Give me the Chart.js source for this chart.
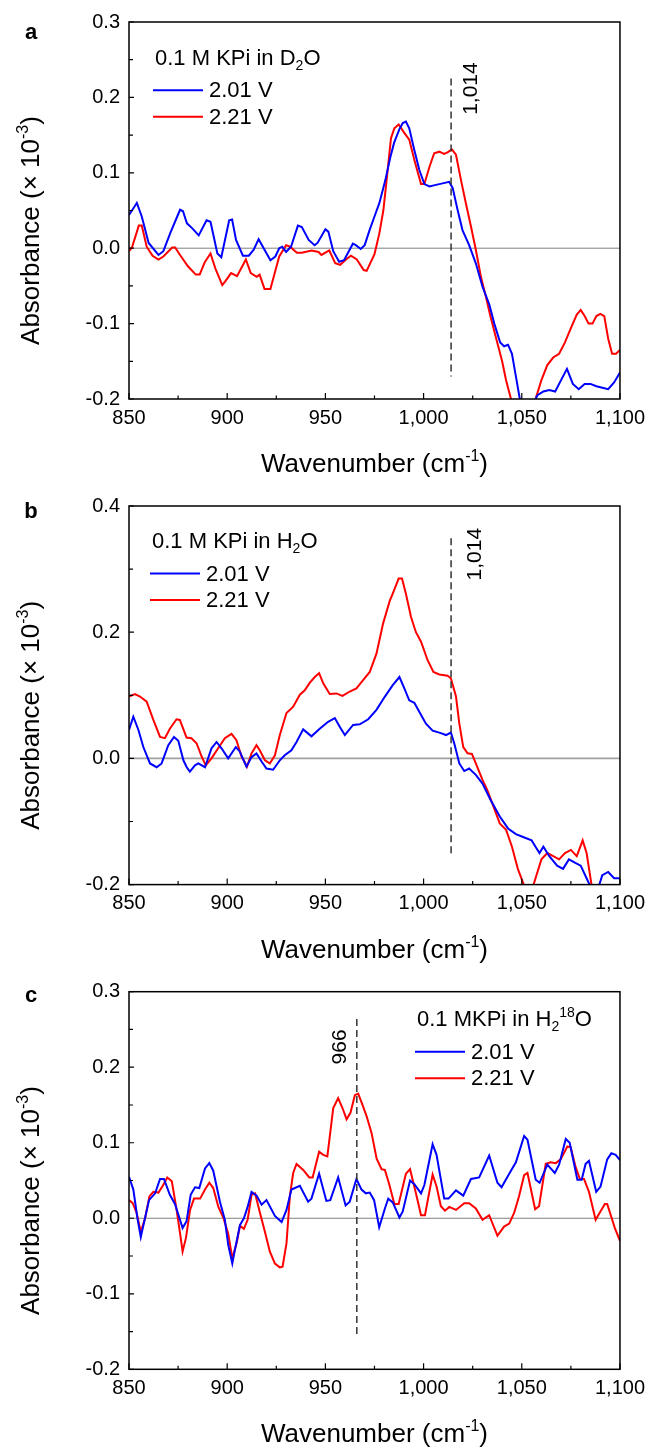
<!DOCTYPE html>
<html>
<head>
<meta charset="utf-8">
<script src="https://cdn.jsdelivr.net/npm/chart.js@4.4.1/dist/chart.umd.min.js"></script>
<style>
  body { margin: 0; background: #fff; }
  #wrap { position: relative; width: 652px; height: 1449px; }
  canvas { position: absolute; left: 0; }
</style>
</head>
<body>
<div id="wrap">
  <canvas id="panelA" width="652" height="490" style="top:0px"></canvas>
  <canvas id="panelB" width="652" height="490" style="top:480px"></canvas>
  <canvas id="panelC" width="652" height="489" style="top:960px"></canvas>
</div>
<script>
const FONT = '"Liberation Sans", Arial, Helvetica, sans-serif';

// axis ticks
const wnTicks = [850, 900, 950, 1000, 1050, 1100];
const absTicksA = [-0.2, -0.1, 0, 0.1, 0.2, 0.3];
const absTicksB = [-0.2, 0, 0.2, 0.4];
const absTicksC = [-0.2, -0.1, 0, 0.1, 0.2, 0.3];

const voltages = ['2.01 V', '2.21 V'];
const lineColors = ['#0000ff', '#ff0000'];

// [wavenumber, absorbance x 1e-3]
const d2oLow = [[850,0.044],[854,0.060],[856.5,0.042],[860,0.007],[865,-0.009],[867.5,-0.004],[871,0.020],[876,0.051],[877.5,0.049],[879.5,0.033],
  [882,0.027],[885.5,0.017],[889.5,0.037],[891.5,0.035],[895,-0.007],[897,-0.012],[901,0.037],[902.5,0.038],[904.5,0.011],[908,-0.010],
  [911,-0.010],[913.5,-0.002],[916,0.012],[919,-0.002],[922,-0.016],[924.5,-0.011],[926.5,0.000],[928,0.002],[930,-0.005],[932.5,0.002],
  [936,0.030],[938,0.028],[941.5,0.011],[944.5,0.004],[946,0.007],[950,0.025],[951.5,0.022],[954,-0.004],[957,-0.018],[959.5,-0.016],
  [964,0.006],[965.5,0.004],[968,-0.001],[970,0.004],[972.5,0.024],[975,0.042],[977.5,0.060],[980.5,0.090],[983,0.120],[985,0.140],
  [987.7,0.158],[989.4,0.166],[991,0.168],[992.7,0.159],[995.3,0.130],[997.8,0.104],[1000.4,0.085],[1003,0.082],[1006.3,0.084],[1009.7,0.086],
  [1013,0.088],[1014.8,0.080],[1017.3,0.051],[1019.8,0.024],[1023.2,0.004],[1026.6,-0.020],[1030,-0.051],[1033.5,-0.075],[1036,-0.100],[1039,-0.125],
  [1041,-0.130],[1043,-0.128],[1045,-0.140],[1047,-0.170],[1049,-0.200],[1051,-0.215],[1054,-0.220],[1056,-0.205],[1058,-0.195],[1061,-0.190],
  [1064,-0.188],[1067,-0.190],[1070,-0.175],[1073,-0.160],[1076,-0.180],[1079,-0.187],[1082,-0.180],[1085,-0.180],[1088,-0.183],[1091,-0.185],
  [1094,-0.187],[1097,-0.178],[1100,-0.165]];
const d2oHigh = [[850,-0.004],[851.5,0.001],[855,0.030],[856.5,0.030],[859,0.002],[862,-0.010],[865,-0.015],[867.5,-0.011],[872,0.001],[873.5,0.001],
  [876,-0.009],[880,-0.024],[884,-0.035],[886,-0.035],[888.5,-0.019],[891.5,-0.007],[894,-0.027],[897.5,-0.049],[899,-0.044],[902,-0.033],
  [905,-0.037],[909.5,-0.015],[912,-0.033],[915,-0.038],[916.5,-0.035],[919,-0.054],[922,-0.054],[924,-0.035],[926.5,-0.011],[930,0.004],
  [932,0.002],[935.5,-0.006],[938,-0.006],[943,-0.003],[946.5,-0.005],[948,-0.009],[952,-0.003],[955,-0.020],[957.5,-0.022],[960.5,-0.015],
  [963,-0.010],[966,-0.015],[969.5,-0.029],[971,-0.030],[975,-0.008],[977.5,0.020],[979.5,0.050],[981,0.086],[983.4,0.146],[985.1,0.159],
  [987.3,0.164],[990.2,0.153],[992.7,0.144],[995.3,0.117],[998.7,0.085],[1000.4,0.085],[1003,0.108],[1005.4,0.126],[1008,0.128],[1010.5,0.125],
  [1012.2,0.127],[1014.4,0.131],[1016.5,0.124],[1019,0.091],[1021.5,0.060],[1024.1,0.029],[1026.6,-0.002],[1029.2,-0.038],[1031.7,-0.064],[1034,-0.090],
  [1037,-0.120],[1040,-0.150],[1042,-0.175],[1044,-0.195],[1046,-0.215],[1050,-0.230],[1054,-0.220],[1057,-0.200],[1060,-0.175],[1063,-0.155],
  [1066,-0.145],[1069,-0.140],[1072,-0.125],[1075,-0.106],[1078,-0.088],[1080,-0.082],[1082,-0.090],[1084,-0.100],[1086,-0.100],[1088,-0.090],
  [1090,-0.087],[1092,-0.090],[1094,-0.120],[1096,-0.140],[1098,-0.140],[1100,-0.135]];

const h2oLow = [[850,0.045],[852.2,0.066],[854.8,0.045],[857.3,0.018],[860.7,-0.008],[864.1,-0.014],[866.6,-0.008],[870,0.021],[872.9,0.034],[875.1,0.028],
  [877.7,-0.003],[879.4,-0.014],[881,-0.021],[883.6,-0.011],[885.3,-0.008],[888.7,-0.014],[892,0.016],[894.6,0.026],[897.1,0.016],[900.5,0.000],
  [904.4,0.018],[906.4,0.011],[909.8,-0.013],[912.4,0.002],[914.9,0.008],[917.5,-0.005],[920,-0.016],[923.4,-0.018],[926.8,-0.003],[929.3,0.005],
  [932.7,0.013],[935.3,0.026],[938.7,0.046],[942.9,0.035],[947.1,0.047],[951.4,0.058],[954.8,0.064],[957.3,0.050],[959.9,0.037],[964.1,0.053],
  [967.5,0.054],[971.8,0.062],[976,0.077],[980.3,0.098],[984.3,0.116],[987.7,0.129],[990.2,0.111],[992.7,0.092],[995.3,0.088],[997.8,0.074],
  [1001.2,0.055],[1004.6,0.044],[1008.8,0.040],[1011.4,0.037],[1013.9,0.041],[1015.6,0.024],[1018.2,-0.008],[1020.7,-0.020],[1023.2,-0.016],[1026.6,-0.026],
  [1030,-0.040],[1034,-0.065],[1038.8,-0.092],[1043,-0.111],[1047,-0.120],[1051,-0.125],[1055,-0.130],[1057,-0.140],[1059,-0.150],[1061,-0.140],
  [1064,-0.155],[1068,-0.170],[1071,-0.175],[1074,-0.160],[1077,-0.165],[1080,-0.170],[1083,-0.190],[1086,-0.210],[1088,-0.215],[1091,-0.185],
  [1094,-0.180],[1097,-0.190],[1100,-0.190]];
const h2oHigh = [[850,0.098],[853,0.102],[855.6,0.098],[859,0.090],[862.4,0.061],[865.8,0.034],[868.3,0.032],[870.8,0.047],[874.2,0.062],[875.9,0.061],
  [879.3,0.033],[881.8,0.032],[884.4,0.024],[887,0.003],[889.1,-0.011],[892,0.000],[895.4,0.016],[898.8,0.032],[902.2,0.039],[904.7,0.029],
  [907.3,0.003],[910.1,-0.013],[912.4,0.008],[914.9,0.021],[916.6,0.013],[919.2,-0.003],[921.7,-0.008],[924.3,0.005],[926.8,0.037],[930.2,0.072],
  [933.6,0.082],[937,0.101],[939.5,0.108],[942.1,0.120],[944.6,0.129],[946.8,0.135],[948.9,0.119],[952.2,0.102],[955.6,0.103],[958.7,0.099],
  [962.4,0.106],[965.8,0.111],[969.2,0.124],[972.6,0.137],[976,0.166],[979.4,0.214],[982.8,0.250],[984.3,0.261],[987.3,0.285],[989,0.285],
  [991,0.261],[993.6,0.224],[996.1,0.200],[998.7,0.185],[1002,0.156],[1005,0.137],[1008,0.133],[1012.2,0.131],[1013.9,0.127],[1016.5,0.098],
  [1018.2,0.055],[1020.2,0.018],[1022.4,0.008],[1024.6,0.007],[1026.6,-0.008],[1030,-0.034],[1032.4,-0.050],[1038.8,-0.103],[1042,-0.113],[1045,-0.140],
  [1048,-0.175],[1051,-0.200],[1054,-0.220],[1057,-0.190],[1060,-0.160],[1063,-0.150],[1066,-0.155],[1069,-0.160],[1072,-0.150],[1075,-0.145],
  [1078,-0.155],[1081,-0.130],[1083,-0.150],[1086,-0.210],[1089,-0.230],[1094,-0.240],[1100,-0.240]];

const h218oLow = [[850,0.055],[852.2,0.038],[854.3,0.000],[856,-0.025],[857.7,-0.005],[860.2,0.024],[863.3,0.033],[865.8,0.052],[867.8,0.052],[870.8,0.031],
  [873.4,0.019],[877.3,-0.013],[879.3,-0.004],[881.4,0.031],[883.6,0.041],[885.8,0.040],[888.7,0.066],[890.9,0.073],[892.9,0.063],[896.3,0.022],
  [898.8,-0.002],[900.5,-0.035],[902.6,-0.060],[903.9,-0.042],[906.5,-0.009],[908.5,0.000],[910.4,0.015],[912.4,0.035],[915,0.030],[917.5,0.018],
  [920,0.024],[924.3,0.003],[927.7,-0.005],[930.2,0.011],[932.7,0.038],[937,0.043],[941.2,0.022],[942.9,0.026],[946.8,0.059],[950.5,0.023],
  [952.5,0.024],[956.5,0.054],[960.3,0.017],[962.4,0.022],[965.8,0.052],[968.4,0.038],[970.6,0.033],[972.6,0.034],[974.8,0.024],[977.4,-0.012],
  [980.3,0.013],[982,0.026],[984.3,0.021],[987.7,0.001],[989.4,0.009],[993.1,0.050],[995.3,0.045],[998.7,0.033],[1000.4,0.044],[1004.6,0.098],
  [1006.6,0.084],[1010.5,0.026],[1012.7,0.026],[1016.5,0.037],[1020.2,0.030],[1024.1,0.052],[1028.3,0.054],[1033.4,0.083],[1037.6,0.047],[1039.7,0.041],
  [1043.6,0.059],[1047,0.074],[1051.2,0.109],[1052.9,0.104],[1057.1,0.051],[1059.1,0.047],[1063,0.071],[1066.8,0.060],[1069,0.071],[1072.4,0.105],
  [1074.4,0.100],[1078.3,0.051],[1080.5,0.051],[1082.5,0.072],[1084.2,0.076],[1087.9,0.035],[1090.1,0.042],[1093.5,0.078],[1095.6,0.086],[1097.8,0.084],
  [1100,0.077]];
const h218oHigh = [[850,0.024],[851.9,0.020],[853.9,0.007],[856,-0.018],[858.2,0.000],[860.4,0.029],[862.4,0.035],[865,0.034],[867.2,0.043],[869.5,0.054],
  [871.8,0.049],[874,0.015],[876,-0.020],[877.3,-0.044],[879,-0.026],[881.1,0.011],[883.1,0.026],[886.2,0.026],[888.7,0.038],[890.9,0.047],
  [892.9,0.040],[895.5,0.015],[898,0.001],[900.5,-0.020],[902.6,-0.053],[904.8,-0.033],[906.5,-0.010],[908.5,-0.014],[910.4,-0.002],[912.4,0.031],
  [914.2,0.033],[916.7,0.007],[919.2,-0.018],[921.7,-0.044],[924.3,-0.060],[926.8,-0.065],[928.2,-0.064],[930.2,-0.033],[931.9,0.029],[933.6,0.060],
  [935.3,0.072],[938.7,0.064],[941.8,0.054],[943.5,0.054],[946.8,0.088],[948.9,0.084],[951,0.082],[954,0.146],[956.5,0.159],[958.7,0.146],
  [960.8,0.131],[962.8,0.140],[965,0.163],[966.7,0.165],[968.9,0.150],[971,0.135],[973.5,0.113],[976.1,0.079],[978.6,0.065],[980.3,0.064],
  [982.6,0.044],[985.1,0.019],[987.3,0.019],[991,0.059],[993.1,0.065],[996.1,0.033],[998.7,0.004],[1000.7,0.004],[1004.6,0.058],[1006.6,0.042],
  [1008.8,0.016],[1010.9,0.010],[1013.1,0.015],[1016.5,0.011],[1020.7,0.020],[1023.2,0.020],[1026.6,0.013],[1030,-0.002],[1033.4,0.004],[1037.6,-0.023],
  [1041,-0.011],[1043.6,-0.007],[1046.1,0.007],[1048.6,0.029],[1051.2,0.057],[1052.9,0.060],[1056.8,0.012],[1058.8,0.016],[1062.2,0.072],[1064.7,0.074],
  [1067.3,0.073],[1069.8,0.078],[1073.2,0.095],[1074.9,0.094],[1077.4,0.068],[1079.6,0.052],[1081.7,0.052],[1084.2,0.035],[1087.6,-0.002],[1089.6,0.007],
  [1092.3,0.019],[1093.5,0.019],[1097.4,-0.013],[1100,-0.030]];

function font(size, bold) {
  return (bold ? 'bold ' : '') + size + 'px ' + FONT;
}

// draws text runs with sub/superscripts, y is the baseline
function drawRich(ctx, parts, x, y, size, align) {
  const small = Math.round(size * 0.62);
  let total = 0;
  const widths = parts.map(p => {
    ctx.font = font(p[1] ? small : size);
    const w = ctx.measureText(p[0]).width;
    total += w;
    return w;
  });
  let cx = align === 'center' ? x - total / 2 : x;
  ctx.textAlign = 'left';
  ctx.textBaseline = 'alphabetic';
  parts.forEach((p, i) => {
    ctx.font = font(p[1] ? small : size);
    const dy = p[1] === 'sup' ? -size * 0.42 : p[1] === 'sub' ? size * 0.22 : 0;
    ctx.fillText(p[0], cx, y + dy);
    cx += widths[i];
  });
}

const panelDecor = {
  id: 'panelDecor',
  beforeDatasetsDraw(chart, args, o) {
    const { ctx, chartArea: a, scales: { y } } = chart;
    const y0 = y.getPixelForValue(0);
    ctx.save();
    ctx.strokeStyle = o.zeroColor;
    ctx.lineWidth = o.zeroWidth;
    ctx.beginPath();
    ctx.moveTo(a.left, y0);
    ctx.lineTo(a.right, y0);
    ctx.stroke();
    ctx.restore();
  },
  afterDatasetsDraw(chart, args, o) {
    const { ctx, chartArea: a, scales: { x, y } } = chart;
    ctx.save();

    // dashed marker and its label
    const m = o.marker;
    const mx = x.getPixelForValue(m.wn);
    const mTop = y.getPixelForValue(m.from);
    ctx.strokeStyle = '#333';
    ctx.lineWidth = 1.5;
    ctx.setLineDash([7, 4]);
    ctx.beginPath();
    ctx.moveTo(mx, mTop);
    ctx.lineTo(mx, y.getPixelForValue(m.to));
    ctx.stroke();
    ctx.setLineDash([]);
    ctx.save();
    ctx.translate(mx + m.dx, mTop + m.dy);
    ctx.rotate(-Math.PI / 2);
    ctx.fillStyle = '#000';
    ctx.font = font(21);
    ctx.textAlign = 'center';
    ctx.textBaseline = 'middle';
    ctx.fillText(m.wn.toLocaleString('en-US'), 0, 0);
    ctx.restore();

    // frame
    ctx.strokeStyle = '#000';
    ctx.lineWidth = 1.5;
    ctx.strokeRect(a.left, a.top, a.right - a.left, a.bottom - a.top);

    // inward ticks, minor ones halfway between majors
    ctx.lineWidth = 1.2;
    ctx.beginPath();
    wnTicks.forEach((v, i) => {
      const px = x.getPixelForValue(v);
      ctx.moveTo(px, a.bottom);
      ctx.lineTo(px, a.bottom - 6);
      if (i < wnTicks.length - 1) {
        const mpx = x.getPixelForValue((v + wnTicks[i + 1]) / 2);
        ctx.moveTo(mpx, a.bottom);
        ctx.lineTo(mpx, a.bottom - 3.5);
      }
    });
    o.yTicks.forEach((v, i) => {
      const py = y.getPixelForValue(v);
      ctx.moveTo(a.left, py);
      ctx.lineTo(a.left + 5, py);
      if (i < o.yTicks.length - 1) {
        const mpy = y.getPixelForValue((v + o.yTicks[i + 1]) / 2);
        ctx.moveTo(a.left, mpy);
        ctx.lineTo(a.left + 4, mpy);
      }
    });
    ctx.stroke();

    // legend
    const L = o.legend;
    ctx.fillStyle = '#000';
    drawRich(ctx, L.title, L.x + 2, L.y + 8, 22, 'left');
    chart.data.datasets.forEach((ds, i) => {
      const ly = L.y + 33.5 + i * 26.5;
      ctx.strokeStyle = ds.borderColor;
      ctx.lineWidth = 2;
      ctx.beginPath();
      ctx.moveTo(L.x, ly);
      ctx.lineTo(L.x + 50, ly);
      ctx.stroke();
      ctx.fillStyle = '#000';
      ctx.font = font(22);
      ctx.textAlign = 'left';
      ctx.textBaseline = 'middle';
      ctx.fillText(ds.label, L.x + 56, ly + 1);
    });
    ctx.restore();
  },
  afterDraw(chart, args, o) {
    const { ctx, chartArea: a } = chart;
    ctx.save();
    ctx.fillStyle = '#000';
    // panel letter
    ctx.font = font(22, true);
    ctx.textAlign = 'center';
    ctx.textBaseline = 'middle';
    ctx.fillText(o.letter, 31, o.letterY);
    // x title
    drawRich(ctx, [['Wavenumber (cm'], ['-1', 'sup'], [')']], (a.left + a.right) / 2, a.bottom + 64 + 9, 26, 'center');
    // y title
    ctx.translate(30, (a.top + a.bottom) / 2 + 20);
    ctx.rotate(-Math.PI / 2);
    drawRich(ctx, [['Absorbance (\u00d7 10'], ['-3', 'sup'], [')']], 0, 9, 26, 'center');
    ctx.restore();
  }
};

function makePanel(id, p) {
  const canvas = document.getElementById(id);
  const H = canvas.height;
  const yTicks = p.yTicks;
  return new Chart(canvas, {
    type: 'scatter',
    data: {
      datasets: p.series.map((s, i) => ({
        label: voltages[i],
        data: s.map(([wn, abs]) => ({ x: wn, y: abs })),
        showLine: true,
        borderColor: lineColors[i],
        borderWidth: 2,
        pointRadius: 0,
        tension: 0,
        clip: 0
      }))
    },
    options: {
      responsive: false,
      animation: false,
      devicePixelRatio: 1,
      layout: { padding: { left: 0, right: 31, top: p.top, bottom: 0 } },
      plugins: {
        legend: { display: false },
        tooltip: { enabled: false },
        panelDecor: {
          yTicks: yTicks,
          zeroColor: p.zeroColor,
          zeroWidth: p.zeroWidth,
          marker: p.marker,
          legend: p.legend,
          letter: p.letter,
          letterY: p.letterY
        }
      },
      scales: {
        x: {
          type: 'linear',
          min: wnTicks[0],
          max: wnTicks[wnTicks.length - 1],
          afterBuildTicks: s => { s.ticks = wnTicks.map(v => ({ value: v })); },
          afterFit: s => { s.height = H - p.bottom; },
          grid: { display: false, drawTicks: false },
          border: { display: false },
          ticks: {
            font: { family: FONT, size: 20 },
            color: '#000',
            padding: 7,
            maxRotation: 0,
            autoSkip: false,
            callback: v => v.toLocaleString('en-US')
          }
        },
        y: {
          type: 'linear',
          min: yTicks[0],
          max: yTicks[yTicks.length - 1],
          afterBuildTicks: s => { s.ticks = yTicks.map(v => ({ value: v })); },
          afterFit: s => { s.width = 129; },
          grid: { display: false, drawTicks: false },
          border: { display: false },
          ticks: {
            font: { family: FONT, size: 20 },
            color: '#000',
            padding: 9,
            autoSkip: false,
            callback: v => v.toFixed(1)
          }
        }
      }
    },
    plugins: [panelDecor]
  });
}

makePanel('panelA', {
  series: [d2oLow, d2oHigh],
  yTicks: absTicksA,
  top: 22, bottom: 399,
  zeroColor: '#808080', zeroWidth: 1,
  marker: { wn: 1014, from: 0.225, to: -0.17, dx: 20, dy: 10 },
  legend: { x: 153, y: 56.7, title: [['0.1 M KPi in D'], ['2', 'sub'], ['O']] },
  letter: 'a', letterY: 33
});

makePanel('panelB', {
  series: [h2oLow, h2oHigh],
  yTicks: absTicksB,
  top: 26, bottom: 404.6,
  zeroColor: '#a0a0a0', zeroWidth: 1.6,
  marker: { wn: 1014, from: 0.349, to: -0.155, dx: 24, dy: 16 },
  legend: { x: 150, y: 60, title: [['0.1 M KPi in H'], ['2', 'sub'], ['O']] },
  letter: 'b', letterY: 32
});

makePanel('panelC', {
  series: [h218oLow, h218oHigh],
  yTicks: absTicksC,
  top: 31.7, bottom: 409.3,
  zeroColor: '#808080', zeroWidth: 1,
  marker: { wn: 966, from: 0.264, to: -0.156, dx: -17, dy: 28 },
  legend: { x: 415, y: 58.3, title: [['0.1 MKPi in H'], ['2', 'sub'], ['18', 'sup'], ['O']] },
  letter: 'c', letterY: 36
});
</script>
</body>
</html>
